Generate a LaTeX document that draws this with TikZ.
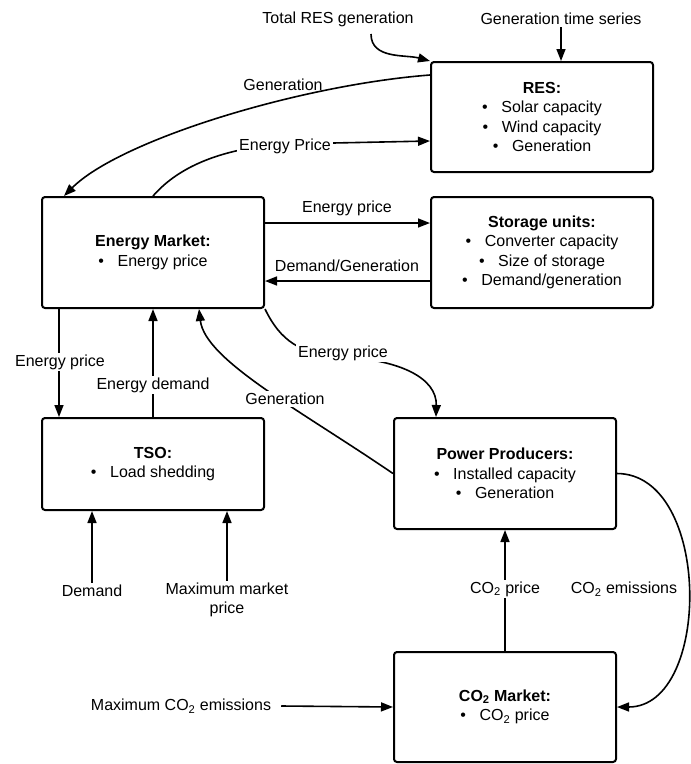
\documentclass[tikz,border=0pt]{standalone}
\usepackage{fontspec}
\setmainfont{Liberation Sans}
\usetikzlibrary{arrows.meta}
\newcommand{\bul}{\textbullet\hspace{0.85em}}
\begin{document}
\begin{tikzpicture}[x=1pt,y=-1pt,
  every node/.style={font=\fontsize{16}{19.5}\selectfont},
  box/.style={draw, line width=2pt, rounded corners=3pt, minimum width=222pt, align=center, inner sep=0pt},
  lbl/.style={inner sep=2pt, align=center},
  wlbl/.style={lbl, fill=white},
  arr/.style={line width=1.6pt, -{Triangle[length=12pt,width=9pt]}},
]
\useasboundingbox (0,0) rectangle (691,764);
% boxes
\node[box, minimum height=110pt] (res) at (542,117) {\textbf{RES:}\\ \bul Solar capacity\\ \bul Wind capacity\\ \bul Generation};
\node[box, minimum height=111pt] (em) at (153,252.5) {\textbf{Energy Market:}\\ \bul Energy price};
\node[box, minimum height=111pt] (sto) at (542,252.5) {\textbf{Storage units:}\\ \bul Converter capacity\\ \bul Size of storage\\ \bul Demand/generation};
\node[box, minimum height=92pt] (tso) at (153,464) {\textbf{TSO:}\\ \bul Load shedding};
\node[box, minimum height=111pt] (pp) at (505,473.5) {\textbf{Power Producers:}\\ \bul Installed capacity\\ \bul Generation};
\node[box, minimum height=110pt] (co2) at (505,707) {\textbf{CO\textsubscript{2} Market:}\\ \bul CO\textsubscript{2} price};
% plain labels
\node[lbl] (trg) at (338,19) {Total RES generation};
\node[lbl] (gts) at (561,19) {Generation time series};
\node[lbl] (lgen1) at (283,85) {Generation};
\node[lbl] (lep2) at (347,208) {Energy price};
\node[lbl] (ldg) at (347,266) {Demand/Generation};
\node[lbl] (dem) at (92,591) {Demand};
\node[lbl] (mmp) at (227,600) {Maximum market\\price};
\node[lbl] (lco2e) at (624,589) {CO\textsubscript{2} emissions};
\node[lbl] (mco) at (181,706) {Maximum CO\textsubscript{2} emissions};
\coordinate (trgs) at (371,34);
% connectors
\draw[arr] (trgs) to[out=-90,in=165] (res.north west);
\draw[arr] (gts) -- (gts |- res.north);
\draw[arr] ([yshift=42pt]res.west) .. controls (300,85) and (120,140) .. ([xshift=23pt]em.north west);
\draw[arr] (em.north) .. controls (180,165) and (225,148) .. (285,144) -- ([yshift=-24pt]res.west);
\draw[arr] ([yshift=29.5pt]em.east) -- ([yshift=29.5pt]sto.west);
\draw[arr] ([yshift=-28.5pt]sto.west) -- ([yshift=-28.5pt]em.east);
\draw[arr] ([xshift=18pt]em.south west) -- ([xshift=18pt]tso.north west);
\draw[arr] (tso.north) -- (em.south);
\draw[arr] (pp.west) .. controls (300,410) and (205,360) .. ([xshift=46pt]em.south);
\draw[arr] (em.south east) .. controls (280,340) and (300,355) .. (343,357) .. controls (400,360) and (437,378) .. ([xshift=43pt]pp.north west);
\draw[arr] (dem) -- (dem |- tso.south);
\draw[arr] (mmp) -- (mmp |- tso.south);
\draw[arr] (co2) -- (pp);
\draw[arr] (pp.east) .. controls (712,474) and (712,707) .. (co2.east);
\draw[arr] ([xshift=8pt]mco.east) -- (co2.west);
% white labels over connectors
\node[wlbl] (lep1) at (285,146) {Energy Price};
\node[wlbl] (lep3) at (60,362) {Energy price};
\node[wlbl] (led) at (153,385) {Energy demand};
\node[wlbl] (lgen2) at (285,399) {Generation};
\node[wlbl] (lep4) at (343,353) {Energy price};
\node[wlbl] (lco2p) at (505,589) {CO\textsubscript{2} price};
\end{tikzpicture}
\end{document}
